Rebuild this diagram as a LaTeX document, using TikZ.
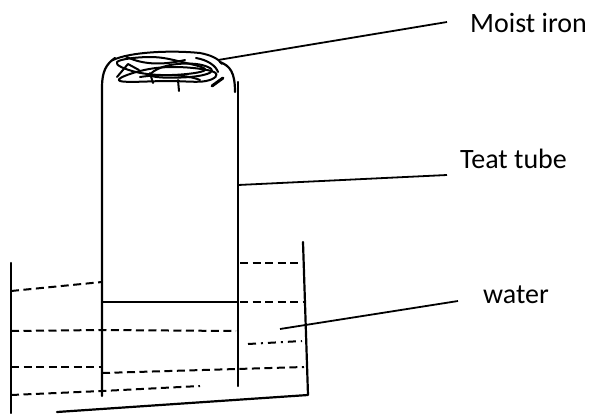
\documentclass[tikz,border=0pt]{standalone}
\usepackage{fontspec}
\setmainfont{Carlito}
\begin{document}
\begin{tikzpicture}[x=1pt,y=-1pt,
  ink/.style={line width=2.2pt,line join=round,line cap=round},
  thin ink/.style={line width=2pt,line join=round,line cap=round},
  waterline/.style={line width=2pt,dash pattern=on 8pt off 4.5pt},
  dashdotline/.style={line width=2pt,dash pattern=on 8pt off 5pt on 2pt off 5pt},
  leader/.style={line width=1.8pt},
  lbl/.style={inner sep=0pt,anchor=base west,font=\fontsize{28}{34}\selectfont}]
\useasboundingbox (0,0) rectangle (595,413);

% beaker
\draw[ink] (11,263) -- (11,413);
\draw[ink] (57,412) -- (308,395) -- (303,242);

% test tube with curled rim
\draw[ink] (102,396) -- (102,87) .. controls (102,72) and (106,64) .. (115,58);
\draw[ink] (238,386) -- (238,82);
\draw[ink] (220,62) .. controls (230,66) and (235,72) .. (235,92);
\draw[thin ink] (102,302) -- (238,302);

% water surface and body, dashed
\draw[waterline] (11,291) -- (102,282);
\draw[waterline] (240,263) -- (303,263);
\draw[waterline] (240,302) -- (303,302);
\draw[waterline] (11,331) -- (102,330) -- (236,331);
\draw[waterline] (11,367) -- (102,367);
\draw[waterline] (102,373) -- (304,367);
\draw[waterline] (11,395) -- (102,391) -- (200,386);
\draw[dashdotline] (248,344) -- (302,341);

% crumpled moist iron wool
\begin{scope}[thin ink]
\draw (113,60) .. controls (130,52) and (170,50) .. (200,53) .. controls (210,55) and (218,58) .. (222,64);
\draw plot[smooth cycle,tension=0.7] coordinates {(117,62) (150,57) (182,62) (205,70) (172,75) (136,72)};
\draw plot[smooth cycle,tension=0.7] coordinates {(120,81) (140,71) (176,67) (214,72) (206,81) (168,81)};
\draw plot[smooth cycle,tension=0.7] coordinates {(152,76) (166,66) (196,64) (212,71) (190,77)};
\draw (117,77) -- (128,64) -- (139,70);
\draw (125,56) .. controls (140,64) and (160,66) .. (185,60);
\draw (150,73) -- (153,83);
\draw (178,80) -- (179,91);
\draw[line width=3pt] (212,86) -- (223,78);
\draw (196,58) .. controls (208,60) and (216,66) .. (218,72);
\draw (140,77) .. controls (160,74) and (185,74) .. (200,80);
\end{scope}

% leader anchor points
\coordinate (ironpt) at (218,60);
\coordinate (tubept) at (238,185);
\coordinate (waterpt) at (280,329);
\coordinate (ironend) at (447,22);
\coordinate (tubeend) at (447,175);
\coordinate (waterend) at (458,301);

% labels
\node[lbl] (iron) at (470,32) {Moist iron};
\node[lbl] (tube) at (460,168) {Teat tube};
\node[lbl] (water) at (483,303) {water};

\draw[leader] (ironpt) -- (ironend);
\draw[leader] (tubept) -- (tubeend);
\draw[leader] (waterpt) -- (waterend);
\end{tikzpicture}
\end{document}
